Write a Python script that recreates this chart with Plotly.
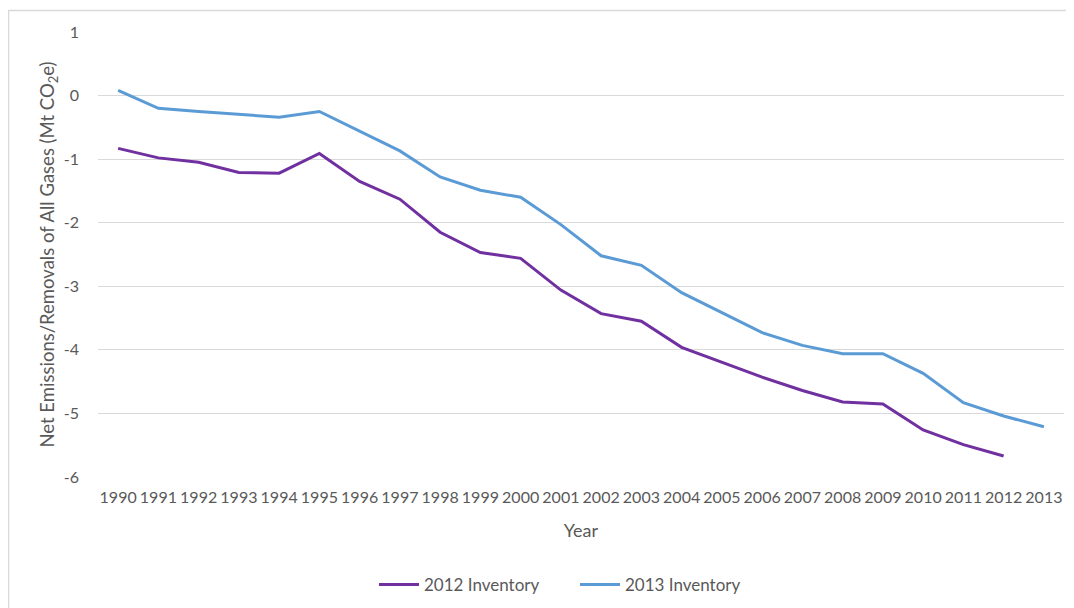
import plotly.graph_objects as go

years = [str(y) for y in range(1990, 2014)]
inv2012 = [-0.83, -0.98, -1.05, -1.21, -1.22, -0.91, -1.35, -1.63, -2.15, -2.47, -2.56,
           -3.06, -3.43, -3.55, -3.96, -4.20, -4.43, -4.64, -4.82, -4.85, -5.26, -5.49, -5.67]
inv2013 = [0.08, -0.20, -0.25, -0.30, -0.34, -0.25, -0.56, -0.87, -1.28, -1.49, -1.60,
           -2.03, -2.52, -2.67, -3.10, -3.41, -3.73, -3.93, -4.06, -4.06, -4.37, -4.83, -5.04, -5.21]
y_ticks = [1, 0, -1, -2, -3, -4, -5, -6]
y_tick_labels = ["1", "0", "-1", "-2", "-3", "-4", "-5", "-6"]

font_family = "Lato, 'Open Sans', sans-serif"
grey = "#595959"

fig = go.Figure()
fig.add_trace(go.Scatter(x=years[:len(inv2012)], y=inv2012, mode="lines", name="2012 Inventory",
                         line=dict(color="#7030a0", width=3)))
fig.add_trace(go.Scatter(x=years, y=inv2013, mode="lines", name="2013 Inventory",
                         line=dict(color="#5b9bd5", width=3)))

OFF = 8  # page body margin
W, H = 1066, 600
# plot area in page coords: x 98-1064, y 32-477
ml = 98 - OFF
mt = 32 - OFF
mr = W - (1064 - OFF)
mb = H - (477 - OFF)
pw, ph = W - ml - mr, H - mt - mb

def px(xpage):
    return (xpage - OFF - ml) / pw

def py(ypage):
    return (H - mb - (ypage - OFF)) / ph

fig.update_layout(
    width=W, height=H,
    margin=dict(l=ml, r=mr, t=mt, b=mb, autoexpand=False),
    paper_bgcolor="white", plot_bgcolor="white",
    font=dict(family=font_family, size=16, color=grey),
    showlegend=True,
    legend=dict(orientation="h", x=px(374), xanchor="left", y=py(585), yanchor="middle",
                font=dict(size=17, color=grey), itemwidth=40,
                entrywidth=146, entrywidthmode="pixels"),
    xaxis=dict(type="category", categoryorder="array", categoryarray=years,
               range=[-0.5, len(years) - 0.5], showgrid=False, showline=False, ticks="",
               ticklabelstandoff=9, automargin=False,
               tickfont=dict(size=16, color=grey),
               title=dict(text="Year", font=dict(size=18, color=grey), standoff=19)),
    yaxis=dict(range=[-6, 1], tickvals=y_ticks, ticktext=y_tick_labels,
               showgrid=True, gridcolor="#d9d9d9", gridwidth=1,
               zeroline=False, showline=False, ticks="", ticklabelstandoff=18, automargin=False,
               tickfont=dict(size=16, color=grey),
               title=dict(text="Net Emissions/Removals of All Gases (Mt CO<sub>2</sub>e)",
                          font=dict(size=18.5, color=grey), standoff=4)),
    shapes=[dict(type="rect", xref="paper", yref="paper",
                 x0=px(8.5), x1=px(1100), y0=py(640), y1=py(10.5),
                 line=dict(color="#d9d9d9", width=1.5), fillcolor="rgba(0,0,0,0)", layer="below")],
)

fig.write_html("out.html")
